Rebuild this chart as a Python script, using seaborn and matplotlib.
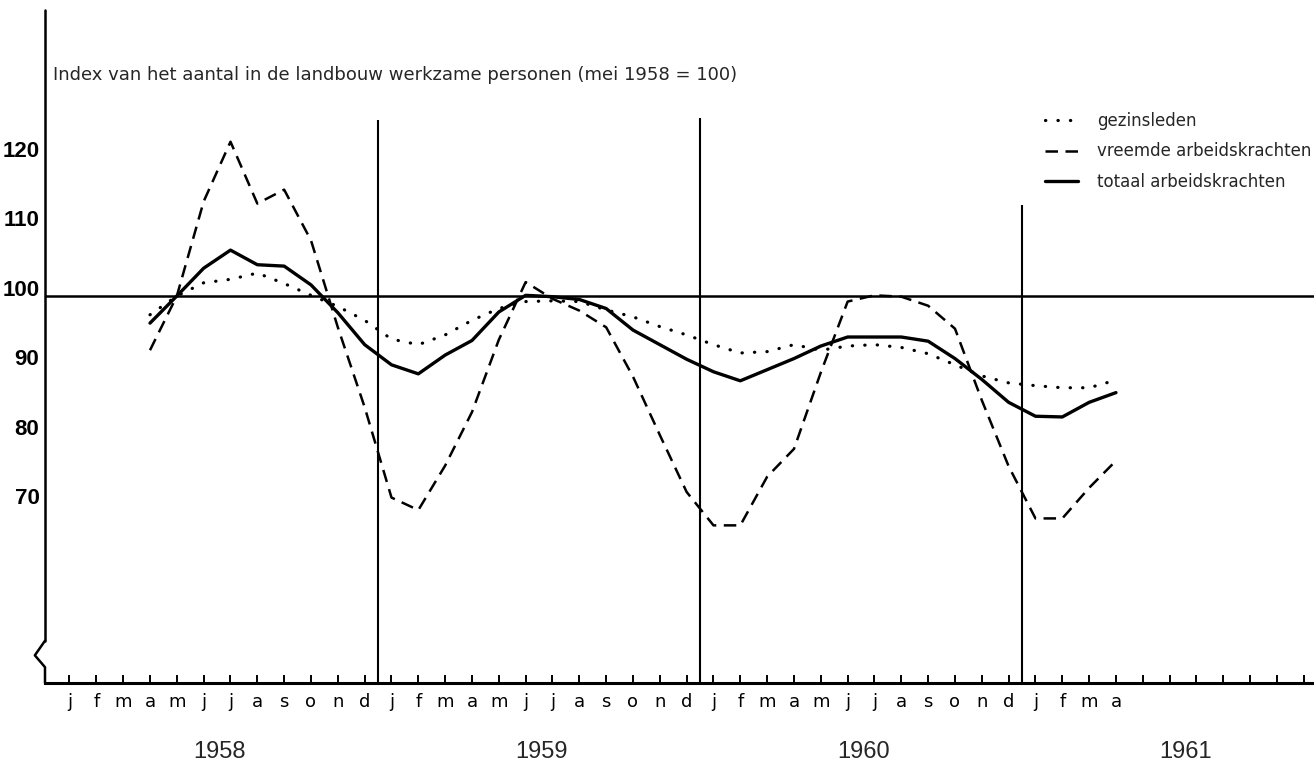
import numpy as np
import pandas as pd
import matplotlib
matplotlib.use('Agg')
import matplotlib.pyplot as plt
from matplotlib.transforms import ScaledTranslation
import seaborn as sns

# maanden jan 1958 .. apr 1961 (letters onder de as)
maanden = list("jfmamjjasond") * 3 + list("jfma")
jaren = ['1958', '1959', '1960', '1961']
start = 3  # eerste waarde: april 1958

# index (mei 1958 = 100), april 1958 .. april 1961
gezinsleden = [97.3, 100, 101.9, 102.4, 103.3, 101.8, 100.1, 98.5, 96.5,
               93.8, 93.0, 94.4, 96.5, 98.2, 99.2, 99.3, 99.2, 98.0, 97.0, 95.6, 94.4,
               93.0, 91.8, 92.0, 93.0, 92.2, 92.8, 93.0, 92.6, 91.7, 90.1, 88.5, 87.5,
               87.1, 86.8, 86.8, 87.9]
vreemde = [92.2, 100, 113.6, 122.2, 113.3, 115.3, 108.0, 95.5, 84.0,
           71.0, 69.2, 75.6, 83.3, 93.7, 102.0, 99.6, 97.9, 95.5, 88.4, 80.0, 71.8,
           67.0, 67.0, 74.0, 78.0, 89.0, 99.2, 100.1, 99.9, 98.6, 95.3, 85.0, 75.5,
           68.0, 68.0, 72.4, 76.3]
totaal = [96.1, 100, 104.0, 106.6, 104.5, 104.3, 101.6, 97.6, 93.0,
          90.1, 88.8, 91.5, 93.6, 97.7, 100.1, 99.9, 99.5, 98.2, 95.1, 93.0, 90.9,
          89.1, 87.8, 89.4, 91.0, 92.8, 94.1, 94.1, 94.1, 93.5, 91.0, 88.0, 84.7,
          82.7, 82.6, 84.7, 86.1]
yticks = [70, 80, 90, 100, 110, 120]

df = pd.DataFrame({'maand': np.arange(start, start + len(totaal)),
                   'gezinsleden': gezinsleden,
                   'vreemde': vreemde,
                   'totaal': totaal})

sns.set_theme(style='white')
plt.rcParams['font.family'] = ['DejaVu Sans']

W, H = 1314, 781
fig = plt.figure(figsize=(W / 100, H / 100), dpi=100)
ax = fig.add_axes([45 / W, (H - 683) / H, (W - 45) / W, 673 / H])

sns.lineplot(data=df, x='maand', y='gezinsleden', ax=ax, color='black', lw=2.3,
             linestyle=(0, (0.1, 3.8)), dash_capstyle='round', label='gezinsleden')
sns.lineplot(data=df, x='maand', y='vreemde', ax=ax, color='black', lw=1.8,
             linestyle=(0, (5, 3)), label='vreemde arbeidskrachten')
sns.lineplot(data=df, x='maand', y='totaal', ax=ax, color='black', lw=2.4,
             label='totaal arbeidskrachten')

ax.set_xlim(-0.913, 46.38)
ax.set_ylim(44.32, 141.15)
ax.set(xlabel='', ylabel='')

# referentielijn 100 en jaarscheidingen
ax.axhline(100, color='black', lw=1.8)
ax.vlines([11.5, 23.5, 35.5], 44.32, [125.3, 125.6, 113.1], color='black', lw=1.5)

# assen
for s in ['top', 'right', 'left']:
    ax.spines[s].set_visible(False)
ax.spines['bottom'].set_linewidth(2.2)
ax.spines['bottom'].set_color('black')
yt = ax.get_yaxis_transform()
ax.plot([0, 0], [141.15, 50.4], color='black', lw=1.8, transform=yt, clip_on=False)
ax.plot([0, -0.008, 0.0, 0.0], [50.4, 48.3, 46.6, 44.32], color='black', lw=1.8,
        transform=yt, clip_on=False)

ax.set_xticks(range(0, 47))
ax.set_xticklabels(maanden + [''] * (47 - len(maanden)))
ax.tick_params(axis='x', direction='in', length=6, width=1.4, color='black',
               pad=7, labelsize=13, labelcolor='black', bottom=True)
ax.set_yticks(yticks)
ax.set_yticklabels([str(v) for v in yticks])
ax.tick_params(axis='y', length=0, pad=4, labelcolor='black')
for lab in ax.get_yticklabels():
    lab.set_fontfamily(['Liberation Sans', 'DejaVu Sans'])
    lab.set_fontsize(16)
    lab.set_fontweight('bold')
    lab.set_transform(lab.get_transform() + ScaledTranslation(0, 6 / 72, fig.dpi_scale_trans))

for i, j in enumerate(jaren):
    ax.text(12 * i + 5.6, -0.1025, j, transform=ax.get_xaxis_transform(),
            ha='center', va='center', fontsize=17,
            family=['Liberation Sans', 'DejaVu Sans'])

fig.text(53 / W, 1 - 75 / H,
         'Index van het aantal in de landbouw werkzame personen (mei 1958 = 100)',
         ha='left', va='center', fontsize=13)

leg = ax.legend(loc='upper left', bbox_to_anchor=(1045 / W, 1 - 112 / H),
                bbox_transform=fig.transFigure, frameon=False, fontsize=12,
                handlelength=2.0, handletextpad=1.1, labelspacing=0.75,
                borderpad=0, borderaxespad=0)

fig.savefig('out.png', dpi=100)
